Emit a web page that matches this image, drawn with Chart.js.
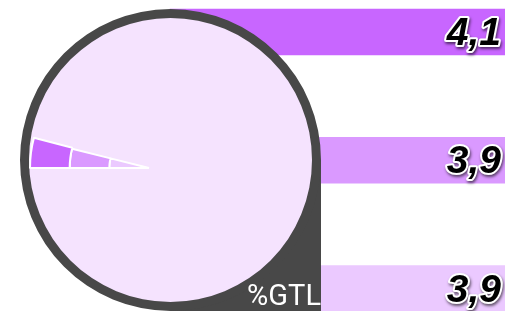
<!DOCTYPE html>
<html>
<head>
<meta charset="utf-8">
<script src="https://cdn.jsdelivr.net/npm/chart.js@4"></script>
<style>
  html, body { margin: 0; padding: 0; background: #fff; }
  #wrap { position: relative; width: 505px; height: 311px; overflow: hidden; }
  #bars { position: absolute; left: 0; top: 0; }
  #corner {
    position: absolute; left: 170px; top: 160px; width: 151px; height: 151px;
    background: #484848;
  }
  #dial {
    position: absolute; left: 20px; top: 9px; width: 283px; height: 284px;
    background: #f5e3fe; border: 9px solid #484848; border-radius: 50%;
  }
  #pie { position: absolute; left: 29px; top: 48px; }
  #unit {
    position: absolute; right: 184px; top: 279px;
    font: 29px Roboto, sans-serif; color: #fff; line-height: 32px;
  }
</style>
</head>
<body>
<div id="wrap">
  <canvas id="bars" width="505" height="311"></canvas>
  <div id="corner"></div>
  <div id="dial"></div>
  <canvas id="pie" width="240" height="240"></canvas>
  <div id="unit">%GTL</div>
</div>
<script>
const categories = ['A', 'B', 'C']
const values = [4.1, 3.9, 3.9]
const colors = ['#c866ff', '#da99ff', '#ebc9ff']

// value labels on the right of each bar
const valueLabels = {
  id: 'valueLabels',
  afterDatasetsDraw(chart) {
    const ctx = chart.ctx
    const meta = chart.getDatasetMeta(0)
    ctx.save()
    ctx.font = 'italic bold 39px "Liberation Sans", Arial, sans-serif'
    ctx.textAlign = 'right'
    ctx.textBaseline = 'alphabetic'
    ctx.lineJoin = 'round'
    meta.data.forEach(function (bar, i) {
      const txt = values[i].toFixed(1).replace('.', ',')
      const x = 501
      const y = bar.y + 13
      ctx.shadowColor = 'rgba(0,0,0,0.6)'
      ctx.shadowBlur = 3
      ctx.shadowOffsetX = 1
      ctx.shadowOffsetY = 2
      ctx.strokeStyle = '#fff'
      ctx.lineWidth = 4
      ctx.strokeText(txt, x, y)
      ctx.shadowColor = 'transparent'
      ctx.fillStyle = '#000'
      ctx.fillText(txt, x, y)
    })
    ctx.restore()
  }
}

new Chart(document.getElementById('bars').getContext('2d'), {
  type: 'bar',
  data: {
    labels: categories,
    datasets: [{
      data: values,
      backgroundColor: colors,
      borderWidth: 0,
      barThickness: 46,
      clip: false,
    }],
  },
  options: {
    indexAxis: 'y',
    responsive: false,
    animation: false,
    layout: { padding: { left: 170, right: 0, top: 32, bottom: 22.5 } },
    plugins: { legend: { display: false }, tooltip: { enabled: false } },
    scales: {
      x: { display: false, min: 0, max: 3.9 },
      y: { display: false, offset: false },
    },
  },
  plugins: [valueLabels],
})

// wedge: one ring per value, share of a full turn
new Chart(document.getElementById('pie').getContext('2d'), {
  type: 'doughnut',
  data: {
    labels: ['valeur', 'reste'],
    datasets: values.map(function (v, i) {
      return {
        data: [v, 100 - v],
        backgroundColor: [colors[i], 'rgba(0,0,0,0)'],
        borderColor: ['#fff', 'rgba(0,0,0,0)'],
        borderWidth: 2,
      }
    }),
  },
  options: {
    responsive: false,
    animation: false,
    rotation: 270,
    cutout: 0,
    layout: { padding: 0 },
    plugins: { legend: { display: false }, tooltip: { enabled: false } },
  },
})
</script>
</body>
</html>
